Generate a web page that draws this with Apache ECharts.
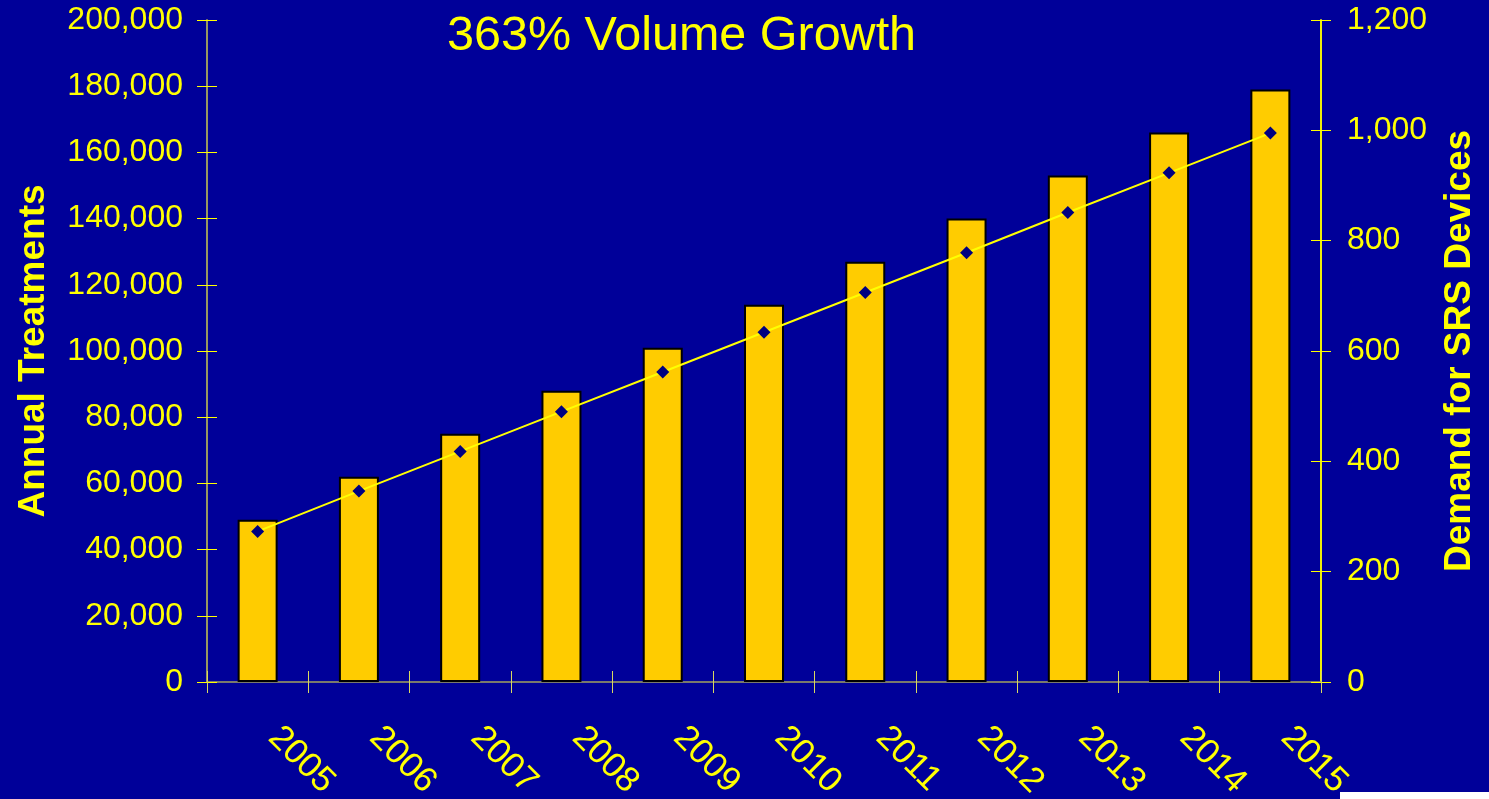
<!DOCTYPE html>
<html>
<head>
<meta charset="utf-8">
<script src="https://cdn.jsdelivr.net/npm/echarts@6/dist/echarts.min.js"></script>
<style>
  html, body { margin: 0; padding: 0; background: #000099; }
  #chart { width: 1489px; height: 799px; }
</style>
</head>
<body>
<div id="chart"></div>
<script>
// Years on the category axis
const years = ['2005', '2006', '2007', '2008', '2009', '2010', '2011', '2012', '2013', '2014', '2015'];
// Annual treatments (left axis, bars)
const annualTreatments = [49000, 62000, 75000, 88000, 101000, 114000, 127000, 140000, 153000, 166000, 179000];
// Demand for SRS devices (right axis, line)
const deviceDemand = [273, 346, 418, 490, 562, 634, 706, 778, 851, 923, 995];
const titleText = '363% Volume Growth';

const YELLOW = '#FFFF00';
const AXIS_OLIVE = '#a3a35e';
const FONT = '"Liberation Sans", Arial, sans-serif';

const chart = echarts.init(document.getElementById('chart'), null, { renderer: 'canvas' });

const leftAxisBase = {
  type: 'value',
  position: 'left',
  min: 0,
  max: 200000,
  interval: 20000,
  splitLine: { show: false },
  axisLine: { show: true, lineStyle: { color: AXIS_OLIVE, width: 1.5 } }
};
const rightAxisBase = {
  type: 'value',
  position: 'right',
  min: 0,
  max: 1200,
  interval: 200,
  splitLine: { show: false },
  axisLine: { show: true, lineStyle: { color: YELLOW, width: 1.5 } }
};

chart.setOption({
  backgroundColor: '#000099',
  animation: false,
  grid: {
    left: 207, right: 168, top: 20, bottom: 117,
    containLabel: false,
    outerBoundsMode: 'none'
  },
  graphic: [
    {
      type: 'text',
      left: 447,
      top: 12,
      style: {
        text: titleText,
        fill: YELLOW,
        font: '48.5px ' + FONT
      }
    },
    {
      type: 'rect',
      left: 1340,
      top: 792,
      shape: { width: 149, height: 7 },
      style: { fill: '#ffffff' }
    }
  ],
  xAxis: [
    {
      type: 'category',
      data: years,
      boundaryGap: true,
      axisLine: { show: true, lineStyle: { color: AXIS_OLIVE, width: 1.5 } },
      axisTick: { show: true, inside: false, length: 11, lineStyle: { color: '#d8d860' } },
      axisLabel: {
        rotate: -45,
        margin: 34,
        padding: [0, 0, 0, 23],
        color: YELLOW,
        fontFamily: FONT,
        fontSize: 35
      }
    },
    {
      type: 'category',
      data: years,
      position: 'bottom',
      boundaryGap: true,
      axisLine: { show: false },
      axisTick: { show: true, inside: true, length: 11, lineStyle: { color: '#d8d860' } },
      axisLabel: { show: false }
    }
  ],
  yAxis: [
    Object.assign({}, leftAxisBase, {
      name: 'Annual Treatments',
      nameLocation: 'middle',
      nameRotate: 90,
      nameGap: 155,
      nameTextStyle: { color: YELLOW, fontFamily: FONT, fontSize: 37, fontWeight: 'bold' },
      axisTick: { show: true, inside: false, length: 10, lineStyle: { color: YELLOW } },
      axisLabel: {
        color: YELLOW,
        fontFamily: FONT,
        fontSize: 32,
        margin: 24,
        formatter: v => v.toLocaleString('en-US')
      }
    }),
    Object.assign({}, rightAxisBase, {
      name: 'Demand for SRS Devices',
      nameLocation: 'middle',
      nameRotate: 90,
      nameGap: 120,
      nameTextStyle: { color: YELLOW, fontFamily: FONT, fontSize: 37, fontWeight: 'bold' },
      axisTick: { show: true, inside: false, length: 10, lineStyle: { color: YELLOW } },
      axisLabel: {
        color: YELLOW,
        fontFamily: FONT,
        fontSize: 32,
        margin: 26,
        formatter: v => v.toLocaleString('en-US')
      }
    }),
    Object.assign({}, leftAxisBase, {
      axisTick: { show: true, inside: true, length: 10, lineStyle: { color: YELLOW } },
      axisLabel: { show: false }
    }),
    Object.assign({}, rightAxisBase, {
      axisTick: { show: true, inside: true, length: 10, lineStyle: { color: YELLOW } },
      axisLabel: { show: false }
    })
  ],
  series: [
    {
      name: 'Annual Treatments',
      type: 'bar',
      xAxisIndex: 0,
      yAxisIndex: 0,
      data: annualTreatments,
      barWidth: 40,
      itemStyle: { color: '#FFCC00', borderColor: '#000000', borderWidth: 2 },
      z: 2
    },
    {
      name: 'Demand for SRS Devices',
      type: 'line',
      xAxisIndex: 0,
      yAxisIndex: 1,
      data: deviceDemand,
      symbol: 'diamond',
      symbolSize: 13,
      showAllSymbol: true,
      lineStyle: { color: YELLOW, width: 2 },
      itemStyle: { color: '#000080', borderWidth: 0 },
      z: 3
    }
  ]
});
</script>
</body>
</html>
